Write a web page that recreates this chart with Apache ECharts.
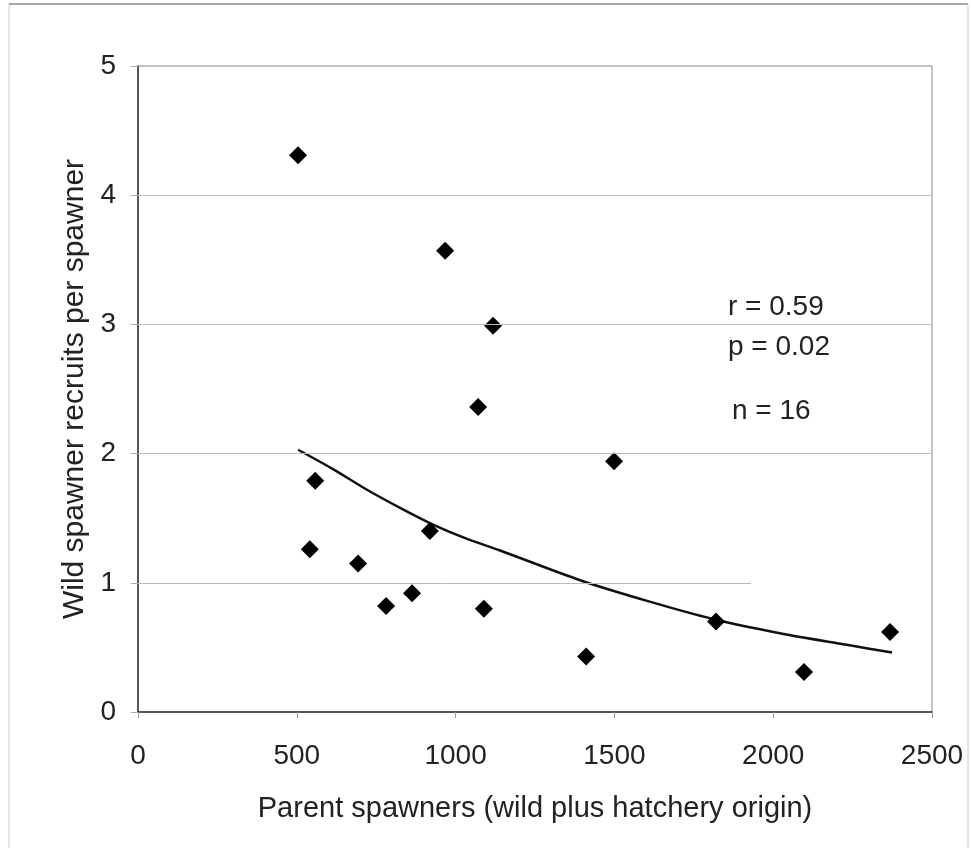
<!DOCTYPE html>
<html style="height:100%;">
<head>
  <meta charset="utf-8">
  <script src="https://cdn.jsdelivr.net/npm/echarts@6/dist/echarts.min.js"></script>
  <style>
    body { margin: 0; background: #fff; }
    #chart { width: 971px; height: 862px; }
  </style>
</head>
<body>
  <div id="chart"></div>
  <script>
    // observed points: parent spawners vs wild recruits per spawner
    const spawners = [504, 967, 1118, 1071, 1499, 558, 919, 541, 693, 781, 863, 1089, 1411, 1820, 2097, 2368];
    const recruits = [4.31, 3.57, 2.99, 2.36, 1.94, 1.79, 1.40, 1.26, 1.15, 0.82, 0.92, 0.80, 0.43, 0.70, 0.31, 0.62];

    // fitted curve
    const curveX = [504, 614, 721, 825, 929, 1036, 1140, 1392, 1603, 1810, 2021, 2232, 2374];
    const curveY = [2.03, 1.88, 1.72, 1.58, 1.45, 1.34, 1.25, 1.02, 0.86, 0.72, 0.61, 0.52, 0.46];

    const xTicks = [0, 500, 1000, 1500, 2000, 2500];
    const yTicks = [0, 1, 2, 3, 4, 5];
    const stats = ['r = 0.59', 'p = 0.02', 'n = 16'];

    const font = 'Liberation Sans, Arial, sans-serif';
    const chart = echarts.init(document.getElementById('chart'));

    const option = {
      backgroundColor: '#fff',
      animation: false,
      grid: { left: 138, right: 39, top: 66, bottom: 150, show: true, borderColor: '#888', borderWidth: 1 },
      xAxis: {
        type: 'value', min: xTicks[0], max: xTicks[xTicks.length - 1], interval: 500,
        name: 'Parent spawners (wild plus hatchery origin)',
        nameLocation: 'middle', nameGap: 82,
        nameTextStyle: { fontFamily: font, fontSize: 29, color: '#222' },
        axisLine: { lineStyle: { color: '#333', width: 1.5 } },
        axisTick: { show: true, inside: false, length: 6, lineStyle: { color: '#999' } },
        axisLabel: { fontFamily: font, fontSize: 28, color: '#222', margin: 30, formatter: v => String(v) },
        splitLine: { show: false }
      },
      yAxis: {
        type: 'value', min: yTicks[0], max: yTicks[yTicks.length - 1], interval: 1,
        name: 'Wild spawner recruits per spawner',
        nameLocation: 'middle', nameGap: 42,
        nameTextStyle: { fontFamily: font, fontSize: 30, color: '#222' },
        axisLine: { show: true, lineStyle: { color: '#333', width: 1.5 } },
        axisTick: { show: true, inside: false, length: 7, lineStyle: { color: '#aaa' } },
        axisLabel: { fontFamily: font, fontSize: 28, color: '#222', margin: 22 },
        splitLine: { show: false }
      },
      series: [
        {
          type: 'line',
          data: curveX.map((x, i) => [x, curveY[i]]),
          smooth: 0.3,
          symbol: 'none',
          lineStyle: { color: '#111', width: 2.5 },
          z: 3,
          markLine: {
            silent: true,
            symbol: 'none',
            label: { show: false },
            lineStyle: { color: '#bbb', width: 1, type: 'solid' },
            data: [
              [{ coord: [0, 1] }, { coord: [1930, 1] }],
              { yAxis: 2 },
              { yAxis: 3 },
              { yAxis: 4 }
            ]
          }
        },
        {
          type: 'scatter',
          data: spawners.map((x, i) => [x, recruits[i]]),
          symbol: 'diamond',
          symbolSize: [18, 18],
          itemStyle: { color: '#000', opacity: 1 },
          z: 4
        }
      ],
      graphic: [
        { type: 'line', shape: { x1: 9, y1: 4, x2: 968, y2: 4 }, style: { stroke: '#888', lineWidth: 1.5 } },
        { type: 'line', shape: { x1: 9, y1: 4, x2: 9, y2: 848 }, style: { stroke: '#ccc', lineWidth: 1 } },
        { type: 'line', shape: { x1: 968, y1: 4, x2: 968, y2: 848 }, style: { stroke: '#ccc', lineWidth: 1 } },
        { type: 'text', left: 728, top: 293, style: { text: stats[0], font: '28px ' + font, fill: '#222' } },
        { type: 'text', left: 728, top: 333, style: { text: stats[1], font: '28px ' + font, fill: '#222' } },
        { type: 'text', left: 732, top: 397, style: { text: stats[2], font: '28px ' + font, fill: '#222' } }
      ]
    };

    chart.setOption(option);
  </script>
</body>
</html>
